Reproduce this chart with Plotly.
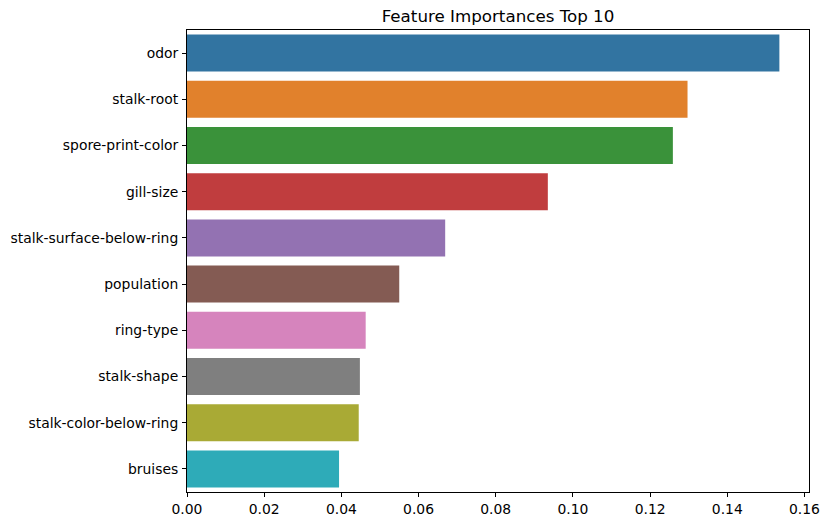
import plotly.graph_objects as go

features = ["odor", "stalk-root", "spore-print-color", "gill-size",
            "stalk-surface-below-ring", "population", "ring-type",
            "stalk-shape", "stalk-color-below-ring", "bruises"]
importances = [0.1535, 0.1297, 0.1259, 0.0935, 0.0669, 0.0550, 0.0463,
               0.0448, 0.0445, 0.0394]
colors = ["#3274a1", "#e1812c", "#3a923a", "#c03d3e", "#9372b2",
          "#845b53", "#d684bd", "#7f7f7f", "#a9aa35", "#2eabb8"]
x_ticks = [0.00, 0.02, 0.04, 0.06, 0.08, 0.10, 0.12, 0.14, 0.16]

fig = go.Figure(go.Bar(
    x=importances, y=features, orientation="h",
    marker=dict(color=colors, line=dict(width=0)), width=0.8,
))

font = dict(family="DejaVu Sans", size=13.9, color="black")
fig.update_layout(
    width=828, height=526,
    margin=dict(l=187, r=19, t=30, b=34),
    paper_bgcolor="white", plot_bgcolor="white",
    font=font, showlegend=False,
    title=dict(text="Feature Importances Top 10", x=(187 + 809) / 2 / 828,
               xanchor="center", y=1 - 16 / 526, yanchor="middle",
               font=dict(family="DejaVu Sans", size=16.7, color="black"),
               automargin=False),
    xaxis=dict(range=[0, max(importances) * 1.05], tickvals=x_ticks,
               ticktext=[f"{v:.2f}" for v in x_ticks],
               showgrid=False, zeroline=False, showline=True,
               linecolor="black", linewidth=1, mirror=True,
               ticks="outside", ticklen=4, tickcolor="black",
               automargin=False),
    yaxis=dict(range=[9.5, -0.5], autorange=False, showgrid=False,
               zeroline=False, showline=True, linecolor="black",
               linewidth=1, mirror=True, ticks="outside", ticklen=4,
               tickcolor="black", automargin=False, ticklabelstandoff=1),
)

fig.write_html(
    "out.html",
    config={"displayModeBar": False},
    post_script="document.body.style.margin='0';document.body.style.overflow='hidden';",
)
